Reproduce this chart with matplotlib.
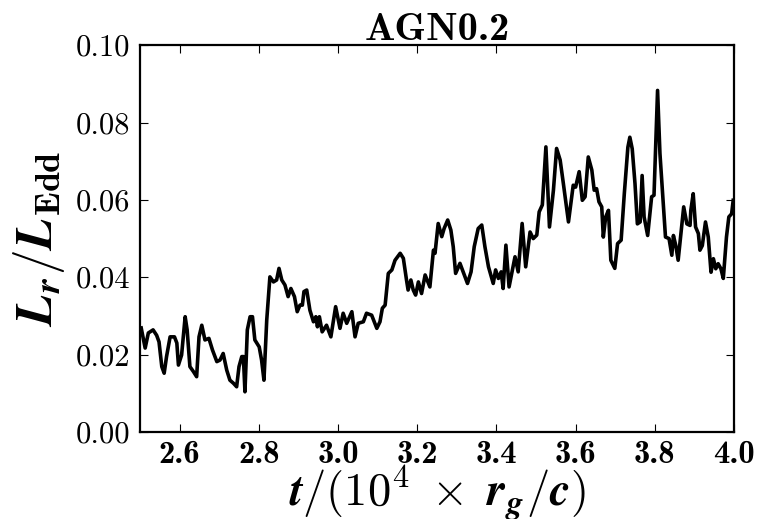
import matplotlib
matplotlib.use('Agg')
import matplotlib.pyplot as plt
from matplotlib.ticker import FormatStrFormatter

plt.rcParams['mathtext.fontset'] = 'cm'

# time in units of 1e4 r_g/c
t = [2.503, 2.513, 2.521, 2.533, 2.542, 2.548, 2.555, 2.561, 2.567, 2.576,
     2.587, 2.593, 2.597, 2.605, 2.614, 2.619, 2.626, 2.635, 2.643, 2.649,
     2.656, 2.664, 2.674, 2.683, 2.694, 2.702, 2.710, 2.719, 2.727, 2.736,
     2.744, 2.750, 2.757, 2.761, 2.765, 2.771, 2.778, 2.784, 2.790, 2.801,
     2.807, 2.813, 2.820, 2.828, 2.837, 2.845, 2.851, 2.858,
     2.866, 2.874, 2.881, 2.890, 2.897, 2.904, 2.910, 2.914, 2.921, 2.929,
     2.938, 2.944, 2.948, 2.953, 2.960, 2.971, 2.982, 2.994, 3.005, 3.013,
     3.022, 3.035, 3.043, 3.051, 3.064, 3.072, 3.085, 3.098, 3.106, 3.112,
     3.119, 3.127, 3.136, 3.144, 3.157, 3.165, 3.173, 3.177, 3.184, 3.190,
     3.196, 3.203, 3.211, 3.220, 3.232, 3.241,
     3.245, 3.253, 3.262, 3.268, 3.277, 3.285, 3.291, 3.297, 3.308, 3.316,
     3.327, 3.336, 3.344, 3.354, 3.363, 3.371, 3.380, 3.392, 3.398, 3.405,
     3.412, 3.417, 3.424, 3.432, 3.447, 3.455, 3.465, 3.474, 3.485, 3.493,
     3.502, 3.508, 3.516, 3.525, 3.534, 3.544, 3.552, 3.561, 3.569, 3.582,
     3.594, 3.600, 3.609, 3.617,
     3.624, 3.632, 3.641, 3.647, 3.653, 3.659, 3.666, 3.670, 3.676, 3.683,
     3.689, 3.699, 3.706, 3.715, 3.723, 3.732, 3.737, 3.743, 3.750, 3.756,
     3.763, 3.768, 3.773, 3.782, 3.792, 3.798, 3.802, 3.807, 3.813, 3.821,
     3.827, 3.836, 3.843, 3.847, 3.853, 3.859, 3.866, 3.873, 3.881, 3.889,
     3.891, 3.897, 3.903, 3.910, 3.914, 3.920, 3.928, 3.935, 3.942, 3.948,
     3.954, 3.960, 3.967, 3.973, 3.981, 3.987, 3.994, 3.998]

# radiative luminosity in Eddington units
lum = [0.0269, 0.0217, 0.0256, 0.0264, 0.0250, 0.0233, 0.0169, 0.0152, 0.0195, 0.0246,
       0.0246, 0.0230, 0.0173, 0.0199, 0.0298, 0.0264, 0.0169, 0.0156, 0.0143, 0.0246,
       0.0276, 0.0238, 0.0242, 0.0212, 0.0182, 0.0186, 0.0203, 0.0160, 0.0134, 0.0126,
       0.0117, 0.0169, 0.0195, 0.0195, 0.0104, 0.0264, 0.0298, 0.0298, 0.0238, 0.0220,
       0.0186, 0.0134, 0.0289, 0.0401, 0.0388, 0.0393, 0.0423, 0.0393,
       0.0380, 0.0350, 0.0371, 0.0350, 0.0311, 0.0328, 0.0328, 0.0363, 0.0367, 0.0315,
       0.0285, 0.0298, 0.0272, 0.0298, 0.0259, 0.0276, 0.0246, 0.0324, 0.0268, 0.0307,
       0.0281, 0.0311, 0.0246, 0.0281, 0.0285, 0.0307, 0.0302, 0.0268, 0.0285, 0.0320,
       0.0328, 0.0410, 0.0419, 0.0444, 0.0462, 0.0449, 0.0393, 0.0367, 0.0393, 0.0367,
       0.0354, 0.0388, 0.0358, 0.0406, 0.0375, 0.0470,
       0.0462, 0.0539, 0.0505, 0.0526, 0.0548, 0.0522, 0.0479, 0.0410, 0.0436, 0.0414,
       0.0384, 0.0414, 0.0479, 0.0526, 0.0535, 0.0479, 0.0427, 0.0384, 0.0419, 0.0397,
       0.0414, 0.0371, 0.0483, 0.0375, 0.0453, 0.0414, 0.0539, 0.0427, 0.0517, 0.0500,
       0.0509, 0.0569, 0.0587, 0.0737, 0.0530, 0.0625, 0.0733, 0.0703, 0.0643, 0.0543,
       0.0638, 0.0633, 0.0673, 0.0599,
       0.0608, 0.0711, 0.0677, 0.0625, 0.0629, 0.0595, 0.0582, 0.0504, 0.0556, 0.0573,
       0.0444, 0.0423, 0.0487, 0.0496, 0.0616, 0.0736, 0.0762, 0.0732, 0.0642, 0.0538,
       0.0543, 0.0663, 0.0556, 0.0508, 0.0608, 0.0612, 0.0736, 0.0883, 0.0720, 0.0599,
       0.0504, 0.0500, 0.0457, 0.0508, 0.0482, 0.0444, 0.0513, 0.0582, 0.0538, 0.0534,
       0.0573, 0.0616, 0.0530, 0.0513, 0.0470, 0.0482, 0.0543, 0.0504, 0.0413, 0.0448,
       0.0422, 0.0435, 0.0422, 0.0397, 0.0504, 0.0556, 0.0564, 0.0599]

xticks = [2.6, 2.8, 3.0, 3.2, 3.4, 3.6, 3.8, 4.0]
yticks = [0.00, 0.02, 0.04, 0.06, 0.08, 0.10]

fig = plt.figure(figsize=(7.71, 5.19), dpi=100)
ax = fig.add_axes([0.1816, 0.1676, 0.7704, 0.7454])
ax.plot(t, lum, color='black', lw=2.6)

ax.set_xlim(2.5, 4.0)
ax.set_ylim(0.0, 0.1)
ax.set_xticks(xticks)
ax.set_yticks(yticks)
ax.xaxis.set_major_formatter(FormatStrFormatter('%.1f'))
ax.yaxis.set_major_formatter(FormatStrFormatter('%.2f'))
ax.tick_params(direction='in', top=True, right=True, length=6, width=0.8, pad=7)
ax.tick_params(axis='x', pad=6)
for lab in ax.get_xticklabels():
    lab.set_family('cmb10')
    lab.set_fontsize(23.5)
for lab in ax.get_yticklabels():
    lab.set_family('cmr10')
    lab.set_fontsize(22)
for s in ax.spines.values():
    s.set_linewidth(1.6)

ax.set_title('AGN0.2', family='cmb10', fontsize=29, pad=4)
ax.set_xlabel(r'$\mathbfit{t}/(10^4\;\times\;\mathbfit{r}_{\mathbfit{g}}/\mathbfit{c})$',
              fontsize=33.5)
ax.xaxis.set_label_coords(0.5, -0.083)
ax.set_ylabel(r'$\mathbfit{L}_{\mathbfit{r}}/\mathbfit{L}_{\mathbf{Edd}}$',
              fontsize=37, labelpad=6)

fig.savefig('out.png', dpi=100)
